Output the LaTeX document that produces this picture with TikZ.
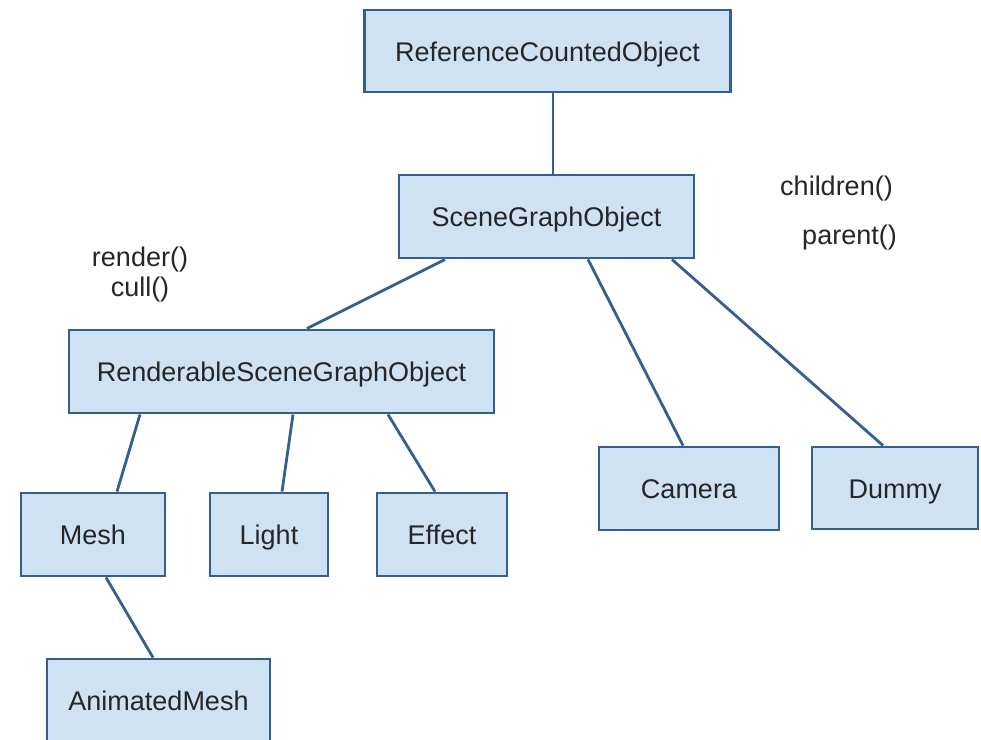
\documentclass[tikz,border=0pt]{standalone}
\usepackage{fontspec}
\setmainfont{Liberation Sans}
\definecolor{boxfill}{HTML}{CFE2F3}
\definecolor{boxline}{HTML}{34608D}
\definecolor{ink}{HTML}{262626}
\begin{document}
\begin{tikzpicture}[x=1pt,y=-1pt,
  classbox/.style={draw=boxline, fill=boxfill, line width=2.9pt, inner sep=0pt,
    text height=20pt, text depth=0pt,
    text=ink, font=\fontsize{27}{32}\selectfont},
  link/.style={draw=boxline, line width=2.8pt},
  note/.style={text=ink, inner sep=0pt, font=\fontsize{27}{32}\selectfont}]
\useasboundingbox (0,0) rectangle (981,739);
\clip (0,0) rectangle (981,739);
\fill[white] (0,0) rectangle (981,739);

% class boxes
\node[classbox, minimum width=366, minimum height=82] (rco) at (547.5,51) {ReferenceCountedObject};
\node[classbox, minimum width=295, minimum height=83] (sgo) at (546.5,216.5) {SceneGraphObject};
\node[classbox, minimum width=425, minimum height=83] (rsgo) at (281.5,371.5) {RenderableSceneGraphObject};
\node[classbox, minimum width=180, minimum height=83] (camera) at (689,488.5) {Camera};
\node[classbox, minimum width=166, minimum height=82] (dummy) at (895,488) {Dummy};
\node[classbox, minimum width=144, minimum height=83] (mesh) at (93,534.5) {Mesh};
\node[classbox, minimum width=118, minimum height=83] (light) at (269,534.5) {Light};
\node[classbox, minimum width=130, minimum height=83] (effect) at (442,534.5) {Effect};
\node[classbox, minimum width=223, minimum height=83] (amesh) at (158.5,700.5) {AnimatedMesh};

% method notes
\node[note] (children) at (836.5,189) {children()};
\node[note] (parent) at (849.5,238) {parent()};
\node[note] (render) at (140,260) {render()};
\node[note] (cull) at (140,290) {cull()};

% inheritance links
\draw[link] ([xshift=5.5pt]rco.south) -- ([xshift=6.5pt]sgo.north);
\draw[link] ([xshift=-101.5pt]sgo.south) -- ([xshift=25.5pt]rsgo.north);
\draw[link] ([xshift=41.5pt]sgo.south) -- ([xshift=-6pt]camera.north);
\draw[link] ([xshift=125.5pt]sgo.south) -- ([xshift=-12pt]dummy.north);
\draw[link] ([xshift=-141.5pt]rsgo.south) -- ([xshift=24pt]mesh.north);
\draw[link] ([xshift=11.5pt]rsgo.south) -- ([xshift=13pt]light.north);
\draw[link] ([xshift=106.5pt]rsgo.south) -- ([xshift=-7pt]effect.north);
\draw[link] ([xshift=13pt]mesh.south) -- ([xshift=-5.5pt]amesh.north);
\end{tikzpicture}
\end{document}
